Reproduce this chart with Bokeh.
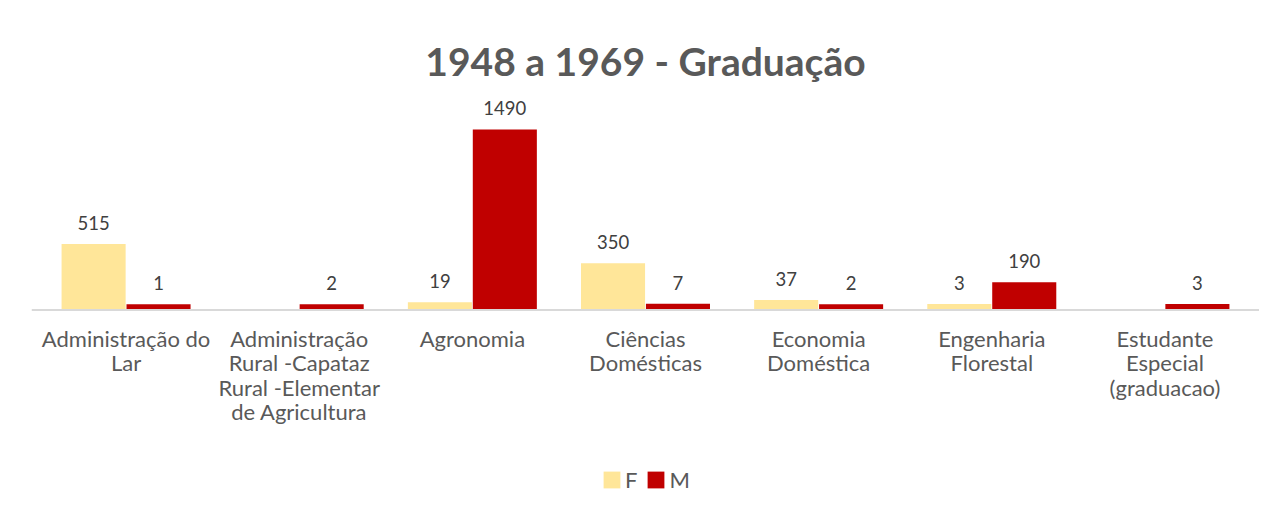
from bokeh.plotting import figure
from bokeh.models import FactorRange, Range1d, Legend, LegendItem, ColumnDataSource, Span
from bokeh.transform import dodge
from bokeh.core.properties import value
from bokeh.embed import file_html
from bokeh.resources import INLINE

# ---------------- data ----------------
categories = [
    "Administração do Lar",
    "Administração Rural -Capataz Rural -Elementar de Agricultura",
    "Agronomia",
    "Ciências Domésticas",
    "Economia Doméstica",
    "Engenharia Florestal",
    "Estudante Especial (graduacao)",
]
tick_labels = [
    "Administração do\nLar",
    "Administração\nRural -Capataz\nRural -Elementar\nde Agricultura",
    "Agronomia",
    "Ciências\nDomésticas",
    "Economia\nDoméstica",
    "Engenharia\nFlorestal",
    "Estudante\nEspecial\n(graduacao)",
]
f_values = [515, None, 19, 350, 37, 3, None]
m_values = [1, 2, 1490, 7, 2, 190, 3]
series_names = ["F", "M"]
title_text = "1948 a 1969 - Graduação"

# ---------------- styles ----------------
F_COLOR = "#FFE699"
M_COLOR = "#C00000"
TEXT_COLOR = "#595959"
LABEL_COLOR = "#404040"
AXIS_COLOR = "#D9D9D9"
FONT = "Lato"
BAR_BASE = -40
AXIS_Y = -47
TITLE_Y = 2070

f_src = ColumnDataSource(dict(
    cat=[c for c, v in zip(categories, f_values) if v is not None],
    val=[v for v in f_values if v is not None],
    lbl=[str(v) for v in f_values if v is not None],
))
m_src = ColumnDataSource(dict(cat=categories, val=m_values, lbl=[str(v) for v in m_values]))
cat_src = ColumnDataSource(dict(cat=categories, lbl=tick_labels))

x_range = FactorRange(*categories, range_padding=8 / 173.2, range_padding_units="absolute")
p = figure(x_range=x_range, y_range=Range1d(-1711, 2519), width=1259, height=505,
           output_backend="svg", toolbar_location=None,
           min_border_left=31, min_border_right=0, min_border_top=8, min_border_bottom=0)
p.axis.visible = False
p.grid.visible = False
p.outline_line_color = None
p.background_fill_color = "white"

# axis line
p.add_layout(Span(location=AXIS_Y, dimension="width", line_color=AXIS_COLOR, line_width=2))

rf = p.vbar(x=dodge("cat", -0.1875, range=p.x_range), top="val", bottom=BAR_BASE, width=0.37,
            source=f_src, fill_color=F_COLOR, line_color=None)
rm = p.vbar(x=dodge("cat", 0.1875, range=p.x_range), top="val", bottom=BAR_BASE, width=0.37,
            source=m_src, fill_color=M_COLOR, line_color=None)

for src, off in ((f_src, -0.1875), (m_src, 0.1875)):
    p.text(x=dodge("cat", off, range=p.x_range), y="val", text="lbl", source=src,
           text_align="center", text_baseline="alphabetic", y_offset=-21,
           text_font=value(FONT), text_font_size="18.5px", text_color=LABEL_COLOR)

p.text(x="cat", y=AXIS_Y, text="lbl", source=cat_src, text_align="center", text_baseline="top",
       y_offset=15, text_line_height=0.9,
       text_font=value(FONT), text_font_size="22px", text_color=TEXT_COLOR)

p.text(x=[categories[3]], y=[TITLE_Y], text=[title_text], text_align="center",
       text_baseline="alphabetic", text_font=value(FONT), text_font_size="39px",
       text_font_style="bold", text_color=TEXT_COLOR)

legend = Legend(items=[LegendItem(label=series_names[0], renderers=[rf]),
                       LegendItem(label=series_names[1], renderers=[rm])],
                orientation="horizontal", location=(570, 12),
                glyph_width=21, glyph_height=21, label_standoff=3, spacing=8,
                padding=0, margin=0, border_line_color=None, background_fill_alpha=0,
                label_text_font=FONT, label_text_font_size="22px", label_text_color=TEXT_COLOR,
                label_height=21, label_width=10)
p.add_layout(legend)

open("out.html", "w").write(file_html(p, INLINE))
